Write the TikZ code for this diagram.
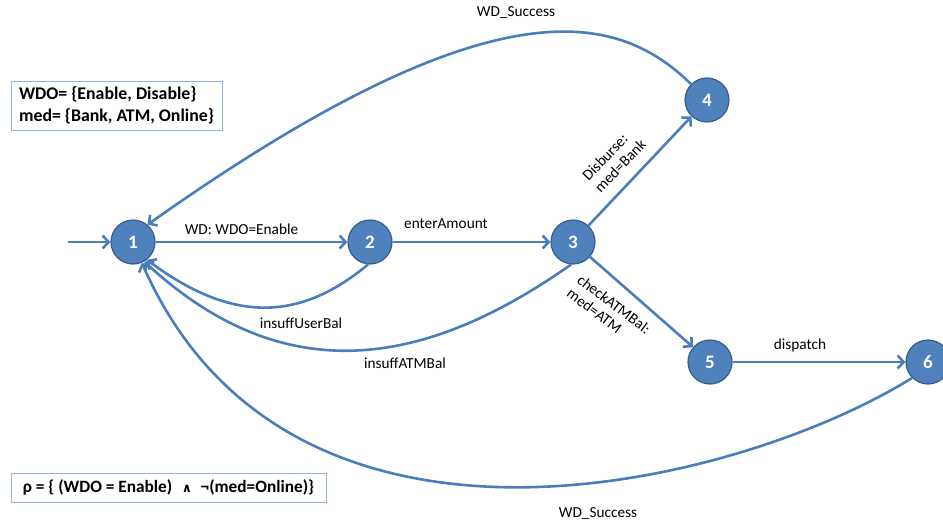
\documentclass[tikz,border=0pt]{standalone}
\usepackage{fontspec}
\setmainfont{Carlito}
\newfontfamily\symfont{DejaVu Sans}
\usetikzlibrary{arrows.meta}
\definecolor{nodefill}{HTML}{4F81BD}
\definecolor{nodeborder}{HTML}{385D8A}
\definecolor{edgecol}{HTML}{4A7EBB}
\definecolor{boxborder}{HTML}{95B3D7}
\begin{document}
\begin{tikzpicture}[x=1pt,y=-1pt,
  state/.style={circle, fill=nodefill, draw=nodeborder, line width=1.2pt,
    minimum size=44pt, inner sep=0pt, text=white,
    font=\fontsize{19}{19}\selectfont\bfseries},
  edge/.style={draw=edgecol, line width=2.6pt,
    -{Straight Barb[length=6pt,width=13pt]}},
  lbl/.style={font=\fontsize{15.3}{17}\selectfont, inner sep=0pt},
  infobox/.style={draw=boxborder, line width=0.8pt, align=left,
    inner xsep=5pt, inner ysep=0pt,
    font=\fontsize{17.8}{22}\selectfont\bfseries}
]
\useasboundingbox (0,0) rectangle (943,527);

% info boxes
\node[infobox, minimum width=211pt, minimum height=49pt]
  (domain) at (116.5,105.5) {WDO= \{Enable, Disable\}\\med= \{Bank, ATM, Online\}};
\node[infobox, minimum width=315pt, minimum height=29pt,
  font=\fontsize{17.3}{22}\selectfont\bfseries]
  (rho) at (168.5,487.5) {ρ = \{ (WDO = Enable)\hspace{0.55em}{\symfont\fontsize{12.5}{12.5}\selectfont ∧}\hspace{0.5em}¬(med=Online)\}};

% states
\node[state] (s1) at (133,242) {1};
\node[state] (s2) at (370,242) {2};
\node[state] (s3) at (573,242) {3};
\node[state] (s4) at (707,100) {4};
\node[state] (s5) at (710,362) {5};
\node[state] (s6) at (928,362) {6};
\coordinate (start) at (68,242);

% straight transitions
\draw[edge] (start) -- (s1);
\draw[edge] (s1) -- (s2);
\draw[edge] (s2) -- (s3);
\draw[edge] (s3) -- (s4);
\draw[edge] (s3) -- (s5);
\draw[edge] (s5) -- (s6);

% curved transitions back to 1
\draw[edge] (s4.135) .. controls (620,15) and (500,-25) .. (s1.50);
\draw[edge] (s2.-95) .. controls (300,321) and (233,324) .. (s1.-52);
\draw[edge] (s3.-95) .. controls (420,371) and (281,388) .. (s1.-60);
\draw[edge] (s6.-135) .. controls (740,485) and (290,600) .. (s1.-67);

% labels
\node[lbl] (l12) at (241.5,229) {WD: WDO=Enable};
\node[lbl] (l23) at (446,224) {enterAmount};
\node[lbl] (l56) at (800,345) {dispatch};
\node[lbl] (l41) at (516,13) {WD\_Success};
\node[lbl] (l21) at (301,323) {insuffUserBal};
\node[lbl] (l31) at (405,363) {insuffATMBal};
\node[lbl] (l61) at (598,514) {WD\_Success};
\node[lbl, align=left, rotate=46] (l34) at (614,160) {Disburse:\\med=Bank};
\node[lbl, align=left, rotate=-37] (l35) at (609,311) {checkATMBal:\\med=ATM};
\end{tikzpicture}
\end{document}
